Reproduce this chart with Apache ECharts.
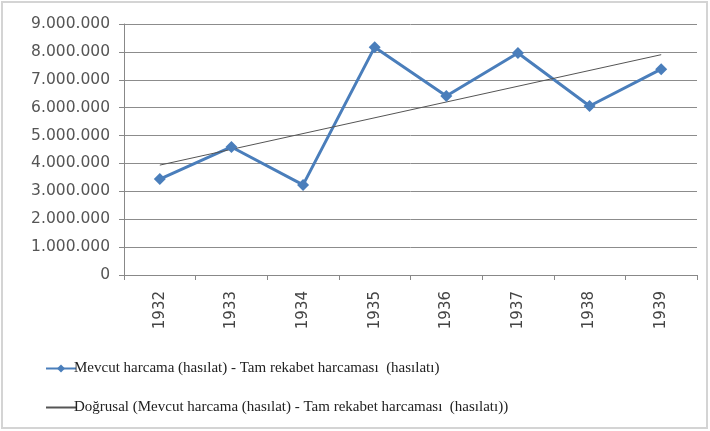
<!DOCTYPE html>
<html><head><meta charset="utf-8">
<script src="https://cdn.jsdelivr.net/npm/echarts@6/dist/echarts.min.js"></script>
<style>html,body{margin:0;padding:0;background:#fff}#c{width:710px;height:431px}</style>
</head><body><div id="c"></div>
<script>
var categories = ['1932','1933','1934','1935','1936','1937','1938','1939'];
var values = [3440000, 4590000, 3230000, 8170000, 6420000, 7960000, 6060000, 7380000];
var trendValues = [3940000, null, null, null, null, null, null, 7900000];
var seriesName = 'Mevcut harcama (hasılat) - Tam rekabet harcaması  (hasılatı)';
var trendName = 'Doğrusal (Mevcut harcama (hasılat) - Tam rekabet harcaması  (hasılatı))';

function fmt(v){ return String(v).replace(/\B(?=(\d{3})+(?!\d))/g, '.'); }

var chart = echarts.init(document.getElementById('c'), null, {renderer:'canvas'});
chart.setOption({
  animation: false,
  backgroundColor: '#fff',
  graphic: [{type:'rect', shape:{x:2, y:2, width:705, height:426}, style:{fill:'none', stroke:'#d4d4d4', lineWidth:2}}],
  grid: {left:124, right:13, top:24, bottom:156, containLabel:false},
  xAxis: {
    type:'category', data:categories, boundaryGap:true,
    axisLine:{lineStyle:{color:'#888', width:1}},
    axisTick:{show:true, alignWithLabel:false, length:5, lineStyle:{color:'#888'}},
    axisLabel:{rotate:90, color:'#444', fontFamily:'DejaVu Sans', fontSize:15, margin:16}
  },
  yAxis: {
    type:'value', min:0, max:9000000, interval:1000000,
    axisLine:{show:true, lineStyle:{color:'#888'}},
    axisTick:{show:true, length:5, lineStyle:{color:'#888'}},
    splitLine:{lineStyle:{color:'#8c8c8c', width:1}},
    axisLabel:{color:'#555', fontFamily:'DejaVu Sans', fontSize:15.5, margin:14, formatter:fmt}
  },
  legend: {
    orient:'vertical', left:40, top:356, itemGap:24, itemWidth:30, itemHeight:10,
    textStyle:{color:'#222', fontFamily:'Liberation Serif', fontSize:15, padding:[0,0,0,-7]},
    data:[seriesName, {name:trendName, itemStyle:{opacity:0}}]
  },
  series: [
    {name:seriesName, type:'line', data:values, symbol:'diamond', symbolSize:12,
     lineStyle:{color:'#4a7ebb', width:3}, itemStyle:{color:'#4a7ebb'}},
    {name:trendName, type:'line', data:trendValues, connectNulls:true, symbol:'none', showSymbol:false,
     lineStyle:{color:'#555', width:1}, itemStyle:{color:'#777'}, z:3}
  ]
});
</script></body></html>
